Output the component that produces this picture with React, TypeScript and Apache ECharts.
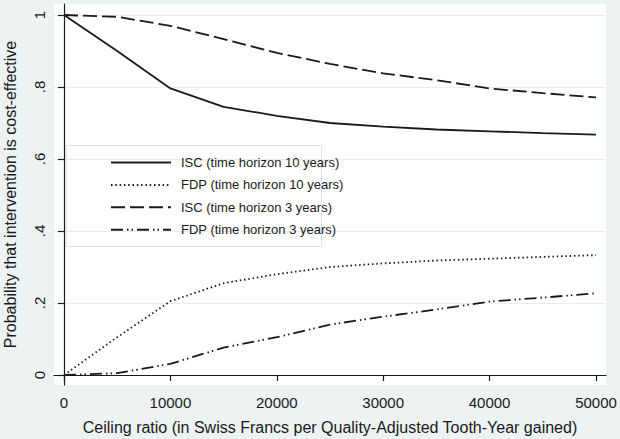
import React, { useEffect, useRef } from "react";
import * as echarts from "echarts";

const xValues = [0, 5000, 10000, 15000, 20000, 25000, 30000, 35000, 40000, 45000, 50000];
const isc10 = [1, 0.9, 0.796, 0.745, 0.72, 0.7, 0.69, 0.682, 0.677, 0.672, 0.668];
const fdp10 = [0, 0.105, 0.205, 0.255, 0.28, 0.3, 0.31, 0.318, 0.323, 0.328, 0.333];
const isc3 = [1, 0.995, 0.97, 0.933, 0.895, 0.864, 0.838, 0.819, 0.796, 0.783, 0.771];
const fdp3 = [0, 0.005, 0.031, 0.076, 0.105, 0.14, 0.162, 0.182, 0.204, 0.215, 0.227];

const xTicks = [0, 10000, 20000, 30000, 40000, 50000];
const yTicks = [0, 0.2, 0.4, 0.6, 0.8, 1];
const yTickLabels = ["0", ".2", ".4", ".6", ".8", "1"];

const seriesNames = [
  "ISC (time horizon 10 years)",
  "FDP (time horizon 10 years)",
  "ISC (time horizon 3 years)",
  "FDP (time horizon 3 years)",
];

const FONT = "'Liberation Sans', Arial, Helvetica, sans-serif";
const INK = "#1a1a1a";

export default function App() {
  const ref = useRef<HTMLDivElement>(null);
  useEffect(() => {
    if (!ref.current) return;
    const chart = echarts.init(ref.current, undefined, { renderer: "svg" });
    const pairs = (ys: number[]) => xValues.map((x, i) => [x, ys[i]]);
    const mk = (name: string, ys: number[], dash: any, width = 1.8) => ({
      name,
      type: "line",
      data: pairs(ys),
      symbol: "none",
      smooth: false,
      lineStyle: { color: INK, width, type: dash, cap: "butt" },
      itemStyle: { color: INK },
    });
    chart.setOption({
      animation: false,
      backgroundColor: "#edf2f3",
      textStyle: { fontFamily: FONT },
      grid: {
        left: 54,
        right: 14,
        top: 4,
        bottom: 54,
        show: true,
        backgroundColor: "#ffffff",
        borderWidth: 0,
        containLabel: false,
        outerBoundsMode: "none",
      },
      xAxis: {
        type: "value",
        min: -940,
        max: 50940,
        name: "Ceiling ratio (in Swiss Francs per Quality-Adjusted Tooth-Year gained)",
        nameLocation: "middle",
        nameGap: 34,
        nameTextStyle: { fontSize: 16, color: INK, fontFamily: FONT },
        axisLine: { lineStyle: { color: INK, width: 1.2 } },
        axisTick: { show: true, length: 6, inside: false, customValues: xTicks, lineStyle: { color: INK, width: 1.2 } },
        axisLabel: {
          customValues: xTicks,
          fontSize: 15,
          color: INK,
          margin: 10,
          fontFamily: FONT,
          formatter: (v: number) => String(v),
        },
        splitLine: { show: false },
      },
      yAxis: {
        type: "value",
        min: -0.0278,
        max: 1.0306,
        name: "Probability that intervention is cost-effective",
        nameLocation: "middle",
        nameGap: 36,
        nameTextStyle: { fontSize: 16, color: INK, fontFamily: FONT },
        axisLine: { show: true, lineStyle: { color: INK, width: 1.2 } },
        axisTick: { show: true, length: 6, customValues: yTicks, lineStyle: { color: INK, width: 1.2 } },
        axisLabel: {
          customValues: yTicks,
          rotate: 90,
          fontSize: 15,
          color: INK,
          margin: 7,
          fontFamily: FONT,
          formatter: (v: number) => {
            const i = yTicks.findIndex((t) => Math.abs(t - v) < 1e-6);
            return i >= 0 ? yTickLabels[i] : "";
          },
        },
        splitLine: { show: true, lineStyle: { color: "#e6eef0", width: 1 } },
      },
      legend: {
        orient: "vertical",
        left: 110,
        top: 156,
        padding: 0,
        itemWidth: 60,
        itemHeight: 14,
        itemGap: 9.4,
        data: seriesNames,
        selectedMode: false,
        itemStyle: { opacity: 0 },
        textStyle: { fontSize: 13, color: INK, fontFamily: FONT, padding: [0, 0, 0, 5] },
      },
      graphic: [
        {
          type: "rect",
          shape: { x: 66.5, y: 145.5, width: 255, height: 101 },
          style: { fill: "#ffffff", stroke: "#dde5e8", lineWidth: 1 },
          z: 0,
          silent: true,
        },
      ],
      series: [
        mk(seriesNames[0], isc10, "solid"),
        mk(seriesNames[1], fdp10, [1.5, 2.8]),
        mk(seriesNames[2], isc3, [14, 5]),
        mk(seriesNames[3], fdp3, [12, 4, 1.5, 3, 1.5, 4]),
      ],
    });
    return () => chart.dispose();
  }, []);
  return (
    <div
      ref={ref}
      style={{ position: "fixed", left: 0, top: 0, width: 620, height: 439 }}
    />
  );
}
